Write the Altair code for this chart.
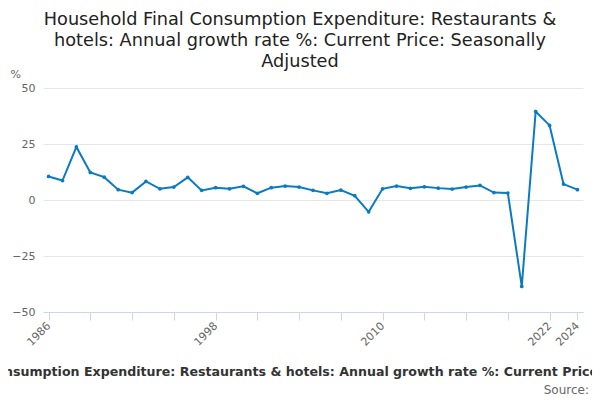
import altair as alt
import pandas as pd

years = list(range(1986, 2025))
growth = [10.5, 8.7, 23.7, 12.3, 10.2, 4.6, 3.3, 8.3, 5.0, 5.8,
          10.1, 4.3, 5.5, 5.0, 6.1, 3.0, 5.5, 6.2, 5.8, 4.3,
          3.0, 4.4, 1.9, -5.3, 5.0, 6.2, 5.2, 5.9, 5.3, 4.9,
          5.8, 6.5, 3.3, 3.1, -38.6, 39.5, 33.3, 7.1, 4.6]
tick_years = [1986, 1989, 1992, 1995, 1998, 2001, 2004, 2007, 2010, 2013, 2016, 2019, 2022, 2024]
label_years = [1986, 1998, 2010, 2022, 2024]
y_ticks = [-50, -25, 0, 25, 50]

series_name = 'Household Final Consumption Expenditure: Restaurants & hotels: Annual growth rate %: Current Price: Seasonally Adjusted'

df = pd.DataFrame({'year': years, 'value': growth})

font = 'DejaVu Sans'
label_test = ' || '.join(f'datum.value == {y}' for y in label_years)

base = alt.Chart(df).encode(
    x=alt.X('year:Q', title=series_name,
            scale=alt.Scale(domain=[1985.6, 2024.4], nice=False, zero=False),
            axis=alt.Axis(values=tick_years, format='d', labelAngle=-45, labelAlign='right',
                          labelBaseline='middle', labelExpr=f"({label_test}) ? datum.label : ''",
                          grid=False, domainColor='#ccd6eb', tickColor='#ccd6eb', tickSize=8,
                          labelColor='#666666', labelFontSize=11, labelPadding=4,
                          titleFontSize=12.6, titleFontWeight='bold', titleColor='#333333',
                          titlePadding=18, titleX=266, titleAlign='center')),
    y=alt.Y('value:Q', title='%',
            scale=alt.Scale(domain=[-50, 50], nice=False),
            axis=alt.Axis(values=y_ticks, domain=False, ticks=False, gridColor='#e6e6e6',
                          labelColor='#666666', labelFontSize=11, labelPadding=8,
                          titleAngle=0, titleAlign='left', titleBaseline='middle',
                          titleX=-33, titleY=-14, titleFontSize=11, titleFontWeight='normal',
                          titleColor='#666666')),
)

line = base.mark_line(color='#0b7bc1', strokeWidth=2)
points = base.mark_circle(color='#0b7bc1', size=14, opacity=1)

source = alt.Chart(pd.DataFrame({'t': ['Source:']})).mark_text(
    align='right', baseline='middle', fontSize=12, color='#666666', font=font
).encode(text='t:N', x=alt.value(546), y=alt.value(302))

chart = alt.layer(line, points, source).properties(
    width=540,
    height=224,
    padding={'left': 35, 'top': 80, 'right': 9, 'bottom': 88},
    autosize=alt.AutoSizeParams(type='none'),
    title=alt.TitleParams(
        ['Household Final Consumption Expenditure: Restaurants &',
         'hotels: Annual growth rate %: Current Price: Seasonally',
         'Adjusted'],
        fontSize=17.7, fontWeight='normal', color='#222222', lineHeight=21,
        anchor='middle', dx=-13, offset=-3, font=font),
).configure(font=font).configure_view(stroke=None)

chart.save("out.html", embed_options={"renderer": "svg", "actions": False})
